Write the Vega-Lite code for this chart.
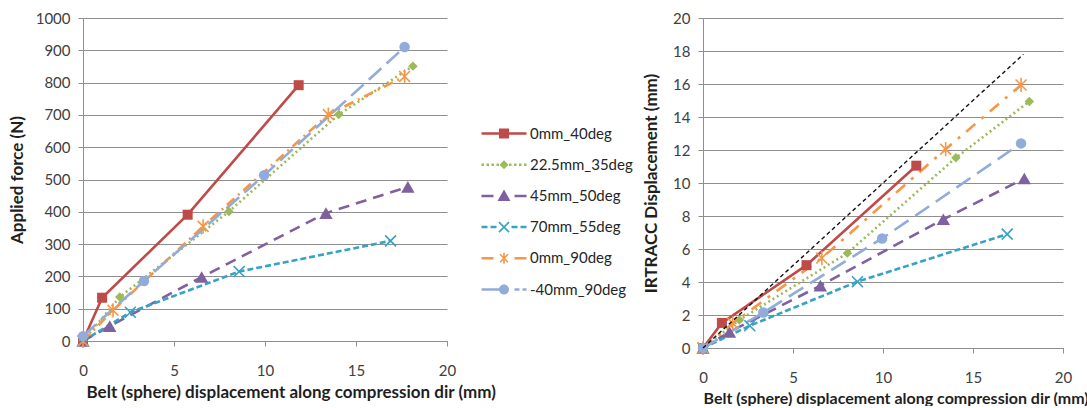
{
  "$schema": "https://vega.github.io/schema/vega-lite/v6.json",
  "padding": {"left": 8, "top": 11, "right": 0, "bottom": 0},
  "background": "white",
  "config": {
    "view": {"stroke": null},
    "font": "Lato",
    "axis": {
      "labelFont": "Lato", "labelFontSize": 15, "labelColor": "#404040", "labelOverlap": false,
      "titleFont": "Lato", "titleFontSize": 17, "titleFontWeight": "bold", "titleColor": "#1f1f1f",
      "gridColor": "#8f8f8f", "domainColor": "#8f8f8f", "tickColor": "#8f8f8f",
      "tickSize": 5, "gridWidth": 1, "domainWidth": 1
    },
    "legend": {
      "symbolSize": 100, "symbolOpacity": 1, "symbolStrokeWidth": 0,
      "labelFont": "Lato", "labelFontSize": 15, "labelColor": "#262626", "labelOffset": 36,
      "rowPadding": 15.2
    }
  },
  "datasets": {
    "curves": [
      {"series": "0mm_40deg", "x": 0, "force": 0, "irtracc": 0},
      {"series": "0mm_40deg", "x": 1.05, "force": 134, "irtracc": 1.52},
      {"series": "0mm_40deg", "x": 5.75, "force": 391, "irtracc": 5.02},
      {"series": "0mm_40deg", "x": 11.85, "force": 792, "irtracc": 11.05},
      {"series": "22.5mm_35deg", "x": 0, "force": 0, "irtracc": 0},
      {"series": "22.5mm_35deg", "x": 2.02, "force": 136, "irtracc": 1.7},
      {"series": "22.5mm_35deg", "x": 8.02, "force": 401, "irtracc": 5.75},
      {"series": "22.5mm_35deg", "x": 14.05, "force": 701, "irtracc": 11.53},
      {"series": "22.5mm_35deg", "x": 18.13, "force": 851, "irtracc": 14.94},
      {"series": "45mm_50deg", "x": 0, "force": 0, "irtracc": 0},
      {"series": "45mm_50deg", "x": 1.47, "force": 46, "irtracc": 0.97},
      {"series": "45mm_50deg", "x": 6.52, "force": 198, "irtracc": 3.78},
      {"series": "45mm_50deg", "x": 13.35, "force": 396, "irtracc": 7.8},
      {"series": "45mm_50deg", "x": 17.85, "force": 477, "irtracc": 10.27},
      {"series": "70mm_55deg", "x": 0, "force": 0, "irtracc": 0},
      {"series": "70mm_55deg", "x": 2.6, "force": 89, "irtracc": 1.35},
      {"series": "70mm_55deg", "x": 8.58, "force": 215, "irtracc": 4.02},
      {"series": "70mm_55deg", "x": 16.9, "force": 310, "irtracc": 6.9},
      {"series": "0mm_90deg", "x": 0, "force": 0, "irtracc": 0},
      {"series": "0mm_90deg", "x": 1.65, "force": 95, "irtracc": 1.5},
      {"series": "0mm_90deg", "x": 6.6, "force": 355, "irtracc": 5.45},
      {"series": "0mm_90deg", "x": 13.48, "force": 701, "irtracc": 12.05},
      {"series": "0mm_90deg", "x": 17.67, "force": 819, "irtracc": 15.94},
      {"series": "-40mm_90deg", "x": 0, "force": 15, "irtracc": 0},
      {"series": "-40mm_90deg", "x": 3.35, "force": 186, "irtracc": 2.15},
      {"series": "-40mm_90deg", "x": 9.95, "force": 513, "irtracc": 6.64},
      {"series": "-40mm_90deg", "x": 17.67, "force": 910, "irtracc": 12.4}
    ],
    "unity": [
      {"x": 0, "y": 0},
      {"x": 17.8, "y": 17.8}
    ]
  },
  "spacing": 146,
  "hconcat": [
    {
      "width": 364,
      "height": 323,
      "data": {"name": "curves"},
      "encoding": {
        "x": {
          "field": "x", "type": "quantitative",
          "scale": {"domain": [0, 20], "nice": false},
          "axis": {"values": [0, 5, 10, 15, 20], "grid": false, "labelFlush": false, "labelPadding": 17, "titlePadding": 6,
                   "titleAnchor": "start", "titleAlign": "left", "titleX": 3,
                   "title": "Belt (sphere) displacement along compression dir (mm)"}
        },
        "y": {
          "field": "force", "type": "quantitative",
          "scale": {"domain": [0, 1000], "nice": false},
          "axis": {"values": [0, 100, 200, 300, 400, 500, 600, 700, 800, 900, 1000], "format": "d", "grid": true,
                   "labelPadding": 8, "titlePadding": 9, "title": "Applied force (N)"}
        }
      },
      "layer": [
        {"transform": [{"filter": "datum.series === '0mm_40deg'"}],
         "mark": {"type": "line", "color": "#BE4B48", "strokeWidth": 2.6}},
        {"transform": [{"filter": "datum.series === '22.5mm_35deg'"}],
         "mark": {"type": "line", "color": "#9BBB59", "strokeWidth": 2.6, "strokeDash": [2, 3]}},
        {"transform": [{"filter": "datum.series === '45mm_50deg'"}],
         "mark": {"type": "line", "color": "#7F60A0", "strokeWidth": 2.6, "strokeDash": [11, 7]}},
        {"transform": [{"filter": "datum.series === '70mm_55deg'"}],
         "mark": {"type": "line", "color": "#36A2C4", "strokeWidth": 2.6, "strokeDash": [6, 3]}},
        {"transform": [{"filter": "datum.series === '0mm_90deg'"}],
         "mark": {"type": "line", "color": "#F79646", "strokeWidth": 2.6, "strokeDash": [10, 5, 2, 5]}},
        {"transform": [{"filter": "datum.series === '-40mm_90deg'"}],
         "mark": {"type": "line", "color": "#91ACDA", "strokeWidth": 2.6, "strokeDash": [17, 7]}},
        {"transform": [{"filter": "datum.series === '0mm_40deg'"}],
         "mark": {"type": "point", "shape": "square", "filled": true, "color": "#BE4B48", "opacity": 1, "size": 100}},
        {"transform": [{"filter": "datum.series === '22.5mm_35deg'"}],
         "mark": {"type": "point", "shape": "diamond", "filled": true, "color": "#9BBB59", "opacity": 1, "size": 90}},
        {"transform": [{"filter": "datum.series === '45mm_50deg'"}],
         "mark": {"type": "point", "shape": "triangle-up", "filled": true, "color": "#7F60A0", "opacity": 1, "size": 180}},
        {"transform": [{"filter": "datum.series === '70mm_55deg'"}],
         "mark": {"type": "point", "shape": "M-1,-1L1,1M-1,1L1,-1", "filled": false, "color": "#36A2C4", "opacity": 1, "size": 120, "strokeWidth": 1.6}},
        {"transform": [{"filter": "datum.series === '0mm_90deg'"}],
         "mark": {"type": "point", "shape": "M-1,-1L1,1M-1,1L1,-1M0,-1.3V1.3", "filled": false, "color": "#F79646", "opacity": 1, "size": 120, "strokeWidth": 1.6}},
        {"transform": [{"filter": "datum.series === '-40mm_90deg'"}],
         "mark": {"type": "point", "shape": "circle", "filled": true, "color": "#91ACDA", "opacity": 1, "size": 110}},
        {
          "transform": [{"filter": "datum.force < 0"}],
          "mark": {"type": "point", "filled": true, "opacity": 1},
          "encoding": {
            "color": {"field": "series", "type": "nominal",
              "scale": {"domain": ["0mm_40deg", "22.5mm_35deg", "45mm_50deg", "70mm_55deg", "0mm_90deg", "-40mm_90deg"],
                        "range": ["#BE4B48", "#9BBB59", "#7F60A0", "#36A2C4", "#F79646", "#91ACDA"]},
              "legend": {"title": null, "orient": "none", "legendX": 396, "legendY": 108}},
            "shape": {"field": "series", "type": "nominal",
              "scale": {"domain": ["0mm_40deg", "22.5mm_35deg", "45mm_50deg", "70mm_55deg", "0mm_90deg", "-40mm_90deg"],
                        "range": [
                          "M-1,-0.25H2.5V0.25H-1ZM4.5,-0.25H8V0.25H4.5ZM2.5,-1H4.5V1H2.5Z",
                          "M-1,-0.25h0.5v0.5h-0.5ZM0,-0.25h0.5v0.5h-0.5ZM1,-0.25h0.5v0.5h-0.5ZM2,-0.25h0.5v0.5h-0.5ZM4.5,-0.25h0.5v0.5h-0.5ZM5.5,-0.25h0.5v0.5h-0.5ZM6.5,-0.25h0.5v0.5h-0.5ZM7.5,-0.25h0.5v0.5h-0.5ZM3.5,-0.9L4.4,0L3.5,0.9L2.6,0Z",
                          "M-1,-0.25H1.4V0.25H-1ZM5.6,-0.25H8V0.25H5.6ZM3.5,-1.3L4.8,1L2.2,1Z",
                          "M-1,-0.25H0.2V0.25H-1ZM0.8,-0.25H2V0.25H0.8ZM5,-0.25H6.2V0.25H5ZM6.8,-0.25H8V0.25H6.8ZM2.613,-1.113L4.613,0.887L4.387,1.113L2.387,-0.887ZM2.613,1.113L2.387,0.887L4.387,-1.113L4.613,-0.887Z",
                          "M-1,-0.25H1.4V0.25H-1ZM5.6,-0.25H8V0.25H5.6ZM2.813,-0.913L4.413,0.687L4.187,0.913L2.587,-0.687ZM2.813,0.913L2.587,0.687L4.187,-0.913L4.413,-0.687ZM3.34,-1.1H3.66V1.1H3.34Z",
                          "M-1,-0.25H2.6V0.25H-1ZM5.6,-0.25H6.6V0.25H5.6ZM7.2,-0.25H8V0.25H7.2ZM4.5,0A1,1,0,1,1,2.5,0A1,1,0,1,1,4.5,0Z"
                        ]},
              "legend": {"title": null, "orient": "none", "legendX": 396, "legendY": 108}}
          }
        }
      ]
    },
    {
      "width": 360,
      "height": 330,
      "data": {"name": "curves"},
      "encoding": {
        "x": {
          "field": "x", "type": "quantitative",
          "scale": {"domain": [0, 20], "nice": false},
          "axis": {"values": [0, 5, 10, 15, 20], "grid": false, "labelFlush": false, "labelPadding": 17, "titlePadding": 5,
                   "titleFontSize": 16, "titleAnchor": "start", "titleAlign": "left", "titleX": 0,
                   "title": "Belt (sphere) displacement along compression dir (mm)"}
        },
        "y": {
          "field": "irtracc", "type": "quantitative",
          "scale": {"domain": [0, 20], "nice": false},
          "axis": {"values": [0, 2, 4, 6, 8, 10, 12, 14, 16, 18, 20], "grid": true, "labelPadding": 8, "titlePadding": 12,
                   "title": "IRTRACC Displacement (mm)"}
        }
      },
      "layer": [
        {"transform": [{"filter": "datum.series === '0mm_40deg'"}],
         "mark": {"type": "line", "color": "#BE4B48", "strokeWidth": 2.6}},
        {"transform": [{"filter": "datum.series === '22.5mm_35deg'"}],
         "mark": {"type": "line", "color": "#9BBB59", "strokeWidth": 2.6, "strokeDash": [2, 3]}},
        {"transform": [{"filter": "datum.series === '45mm_50deg'"}],
         "mark": {"type": "line", "color": "#7F60A0", "strokeWidth": 2.6, "strokeDash": [11, 7]}},
        {"transform": [{"filter": "datum.series === '70mm_55deg'"}],
         "mark": {"type": "line", "color": "#36A2C4", "strokeWidth": 2.6, "strokeDash": [6, 3]}},
        {"transform": [{"filter": "datum.series === '0mm_90deg'"}],
         "mark": {"type": "line", "color": "#F79646", "strokeWidth": 2.6, "strokeDash": [12, 8, 3, 8]}},
        {"transform": [{"filter": "datum.series === '-40mm_90deg'"}],
         "mark": {"type": "line", "color": "#91ACDA", "strokeWidth": 2.6, "strokeDash": [17, 8]}},
        {"transform": [{"filter": "datum.series === '0mm_40deg'"}],
         "mark": {"type": "point", "shape": "square", "filled": true, "color": "#BE4B48", "opacity": 1, "size": 100}},
        {"transform": [{"filter": "datum.series === '22.5mm_35deg'"}],
         "mark": {"type": "point", "shape": "diamond", "filled": true, "color": "#9BBB59", "opacity": 1, "size": 90}},
        {"transform": [{"filter": "datum.series === '45mm_50deg'"}],
         "mark": {"type": "point", "shape": "triangle-up", "filled": true, "color": "#7F60A0", "opacity": 1, "size": 180}},
        {"transform": [{"filter": "datum.series === '70mm_55deg'"}],
         "mark": {"type": "point", "shape": "M-1,-1L1,1M-1,1L1,-1", "filled": false, "color": "#36A2C4", "opacity": 1, "size": 120, "strokeWidth": 1.6}},
        {"transform": [{"filter": "datum.series === '0mm_90deg'"}],
         "mark": {"type": "point", "shape": "M-1,-1L1,1M-1,1L1,-1M0,-1.3V1.3", "filled": false, "color": "#F79646", "opacity": 1, "size": 120, "strokeWidth": 1.6}},
        {"transform": [{"filter": "datum.series === '-40mm_90deg'"}],
         "mark": {"type": "point", "shape": "circle", "filled": true, "color": "#91ACDA", "opacity": 1, "size": 110}},
        {
          "data": {"name": "unity"},
          "mark": {"type": "line", "color": "#111111", "strokeWidth": 1.4, "strokeDash": [4, 3]},
          "encoding": {
            "x": {"field": "x", "type": "quantitative"},
            "y": {"field": "y", "type": "quantitative"}
          }
        }
      ]
    }
  ]
}
